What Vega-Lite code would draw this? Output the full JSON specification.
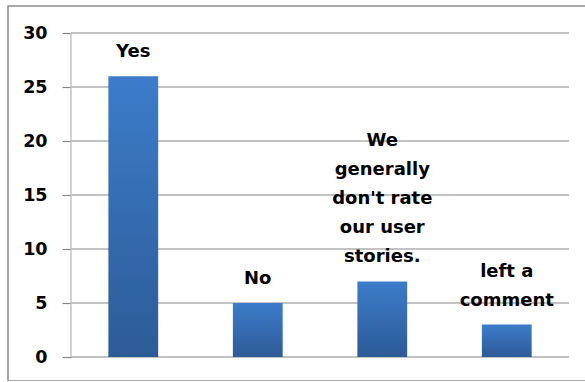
{
  "$schema": "https://vega.github.io/schema/vega-lite/v6.json",
  "autosize": "none",
  "padding": {"left": 8, "top": 6, "right": 0, "bottom": 0},
  "width": 590,
  "height": 375,
  "background": "white",
  "config": {
    "view": {"stroke": "#8a8a8a", "strokeWidth": 1.5},
    "font": "DejaVu Sans",
    "axisY": {
      "offset": -63,
      "values": [0, 5, 10, 15, 20, 25, 30],
      "domain": false,
      "grid": false,
      "tickSize": 9,
      "tickColor": "#868686",
      "tickWidth": 1.2,
      "labelPadding": 15,
      "labelFont": "DejaVu Sans",
      "labelFontSize": 17.5,
      "labelFontWeight": "bold",
      "labelColor": "black",
      "title": null
    },
    "text": {"align": "center", "baseline": "bottom", "lineHeight": 29, "font": "DejaVu Sans", "fontSize": 18, "fontWeight": "bold", "color": "black"}
  },
  "resolve": {"scale": {"x": "independent"}},
  "layer": [
    {
      "data": {"values": [
        {"tick": 0, "from": 0, "to": 1}, {"tick": 5, "from": 0, "to": 1}, {"tick": 10, "from": 0, "to": 1},
        {"tick": 15, "from": 0, "to": 1}, {"tick": 20, "from": 0, "to": 1}, {"tick": 25, "from": 0, "to": 1},
        {"tick": 30, "from": 0, "to": 1}
      ]},
      "layer": [
        {
          "mark": {"type": "rule", "color": "#868686", "strokeWidth": 1.2},
          "encoding": {
            "y": {"field": "tick", "type": "quantitative", "scale": {"domain": [-2.222, 32.5], "nice": false, "zero": false}, "axis": {"title": null}},
            "x": {"field": "from", "type": "quantitative", "scale": {"domain": [-0.12651, 1.05823], "nice": false, "zero": false}, "axis": null},
            "x2": {"field": "to"}
          }
        },
        {
          "transform": [{"filter": "datum.tick == 0"}],
          "mark": {"type": "rule", "color": "#c4c4c4", "strokeWidth": 1.5},
          "encoding": {
            "x": {"field": "from", "type": "quantitative"},
            "y": {"field": "tick", "type": "quantitative"},
            "y2": {"datum": 30}
          }
        }
      ]
    },
    {
      "data": {"values": [
        {"answer": "Yes", "label": ["Yes"], "lines": 1, "count": 26},
        {"answer": "No", "label": ["No"], "lines": 1, "count": 5},
        {"answer": "We generally don't rate our user stories.", "label": ["We", "generally", "don't rate", "our user", "stories."], "lines": 5, "count": 7},
        {"answer": "left a comment", "label": ["left a", "comment"], "lines": 2, "count": 3}
      ]},
      "encoding": {
        "x": {
          "field": "answer",
          "type": "nominal",
          "sort": null,
          "scale": {"paddingInner": 0, "paddingOuter": 0.3695, "align": 0.685},
          "axis": null
        },
        "y": {
          "field": "count",
          "type": "quantitative",
          "axis": {"title": null}
        }
      },
      "layer": [
        {
          "mark": {
            "type": "bar",
            "width": {"band": 0.4},
            "color": {
              "gradient": "linear",
              "x1": 0, "y1": 0, "x2": 0, "y2": 1,
              "stops": [
                {"offset": 0, "color": "#3c7cca"},
                {"offset": 1, "color": "#2d5b97"}
              ]
            }
          },
          "encoding": {"y2": {"datum": 0}}
        },
        {
          "transform": [{"filter": "datum.lines == 1"}],
          "mark": {"type": "text", "dy": -15},
          "encoding": {"text": {"field": "label"}}
        },
        {
          "transform": [{"filter": "datum.lines == 2"}],
          "mark": {"type": "text", "dy": -44},
          "encoding": {"text": {"field": "label"}}
        },
        {
          "transform": [{"filter": "datum.lines == 5"}],
          "mark": {"type": "text", "dy": -131},
          "encoding": {"text": {"field": "label"}}
        }
      ]
    }
  ]
}
